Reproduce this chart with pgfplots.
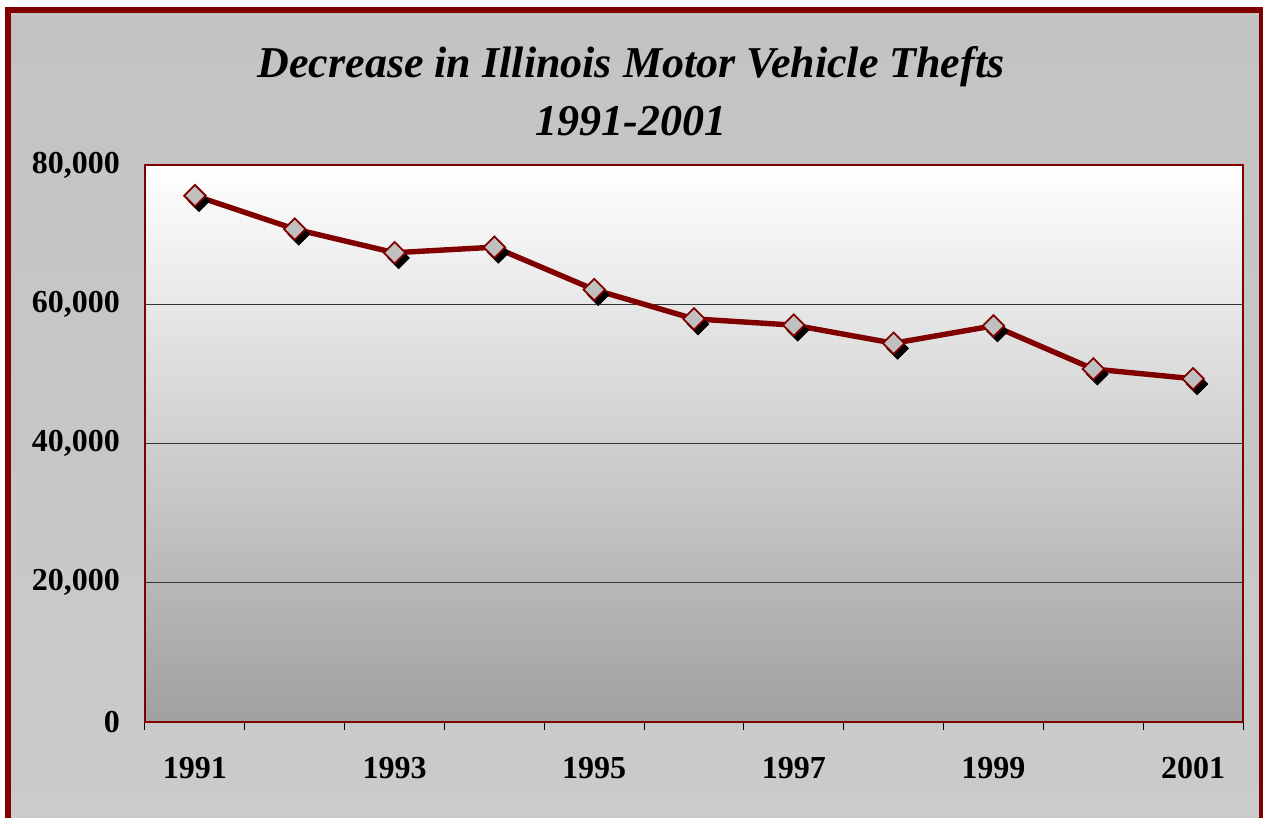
\documentclass[border=0pt]{standalone}
\usepackage{fontspec}
\setmainfont{Liberation Serif}
\usepackage{pgfplots}
\pgfplotsset{compat=1.18}
\definecolor{maroon}{RGB}{128,0,0}
\definecolor{mfill}{RGB}{192,192,192}
\begin{document}
\begin{tikzpicture}
\useasboundingbox (0,0) rectangle (631.5pt,409pt);
\fill[white] (0,0) rectangle (631.5pt,409pt);
\shade[top color={rgb,255:red,195;green,195;blue,195}, bottom color={rgb,255:red,203;green,203;blue,203}] (4pt,-10pt) rectangle (631pt,404pt);
\draw[maroon, line width=3pt] (4pt,-10pt) -- (4pt,404pt) -- (631pt,404pt) -- (631pt,-10pt);
\node[anchor=base, font=\fontsize{22}{26}\selectfont\bfseries\itshape] at (315.5pt,370pt) {Decrease in Illinois Motor Vehicle Thefts};
\node[anchor=base, font=\fontsize{22}{26}\selectfont\bfseries\itshape] at (315.5pt,341pt) {1991-2001};
\begin{axis}[
  at={(72.5pt,48pt)}, anchor=south west,
  scale only axis, width=549pt, height=278.5pt,
  xmin=-0.5, xmax=10.5, ymin=0, ymax=80000,
  axis background/.style={shade, top color=white, bottom color={rgb,255:red,160;green,160;blue,160}},
  axis line style={draw=maroon, line width=0.6pt},
  xtick={0,2,4,6,8,10},
  xticklabels={1991,1993,1995,1997,1999,2001},
  minor xtick={-0.5,0.5,...,10.5},
  ytick={0,20000,40000,60000,80000},
  scaled y ticks=false,
  tick pos=left,
  major tick length=0pt, minor tick length=4pt,
  tick align=outside,
  minor tick style={black, line width=0.5pt},
  ymajorgrids, major grid style={black!80, line width=0.4pt},
  tick label style={font=\fontsize{16}{18}\selectfont\bfseries},
  xticklabel style={yshift=-14pt},
  yticklabel style={xshift=-9pt},
  /pgf/number format/.cd, assume math mode=true, 1000 sep={,},
]
\addplot[only marks, mark=square*, mark size=3.8pt, mark options={xshift=2pt, yshift=-2.6pt, rotate=45, fill=black, draw=black}] coordinates {
(0,75600) (1,70800) (2,67400) (3,68200) (4,62100) (5,57900) (6,57000) (7,54400) (8,56900) (9,50700) (10,49300)};
\addplot[maroon, line width=2.7pt, mark=square*, mark size=3.8pt, mark options={rotate=45, fill=mfill, draw=maroon, line width=0.9pt}] coordinates {
(0,75600) (1,70800) (2,67400) (3,68200) (4,62100) (5,57900) (6,57000) (7,54400) (8,56900) (9,50700) (10,49300)};
\end{axis}
\end{tikzpicture}
\end{document}
